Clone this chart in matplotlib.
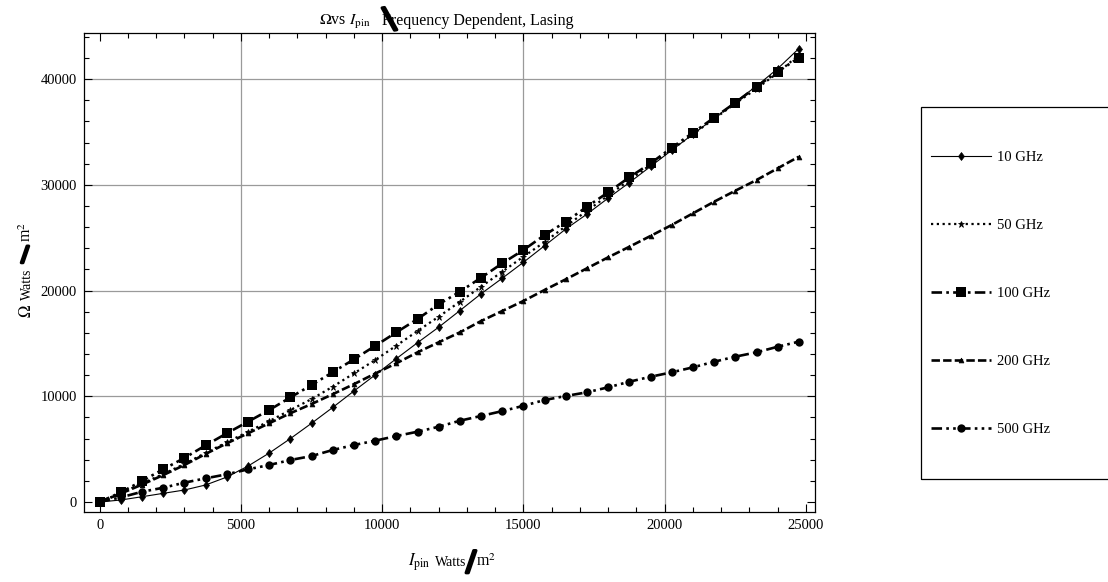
import matplotlib
matplotlib.use("Agg")
import matplotlib.pyplot as plt
import matplotlib.patheffects as pe
from matplotlib.patches import Rectangle
from matplotlib.ticker import MultipleLocator

plt.rcParams['font.family'] = ['Liberation Serif', 'DejaVu Serif']
plt.rcParams['mathtext.fontset'] = 'stix'

# Pin intensity samples (Watts/m^2)
i_pin = [i * 750 for i in range(34)]

omega_10ghz = [0, 190, 500, 820, 1135, 1610, 2360, 3400, 4630, 6000,
               7450, 8950, 10500, 12020, 13560, 15070, 16540, 18110, 19700, 21170,
               22680, 24250, 25830, 27240, 28750, 30220, 31750, 33280, 34800, 36300,
               37850, 39350, 41000, 42900]
omega_50ghz = [0, 850, 1750, 2650, 3600, 4650, 5650, 6650, 7650, 8700,
               9740, 10910, 12170, 13430, 14790, 16180, 17530, 18950, 20370, 21790,
               23210, 24600, 26100, 27550, 29000, 30450, 31900, 33350, 34800, 36250,
               37700, 39100, 40600, 42300]
omega_100ghz = [0, 920, 1990, 3100, 4170, 5360, 6500, 7600, 8700, 9900,
                11070, 12280, 13500, 14770, 16050, 17310, 18700, 19900, 21220, 22580,
                23840, 25260, 26520, 27940, 29300, 30720, 32040, 33520, 34940, 36360,
                37780, 39290, 40710, 42030]
omega_200ghz = [0, 800, 1650, 2550, 3500, 4550, 5550, 6500, 7450, 8400,
                9270, 10200, 11150, 12150, 13120, 14160, 15110, 16050, 17120, 18070,
                19020, 20060, 21070, 22110, 23150, 24150, 25170, 26210, 27310, 28410,
                29450, 30460, 31570, 32670]
omega_500ghz = [0, 440, 970, 1350, 1830, 2240, 2620, 3090, 3500, 3970,
                4350, 4920, 5390, 5800, 6240, 6650, 7120, 7690, 8140, 8600,
                9100, 9650, 10030, 10380, 10850, 11380, 11850, 12270, 12740, 13270,
                13750, 14160, 14690, 15170]

labels = ["10 GHz", "50 GHz", "100 GHz", "200 GHz", "500 GHz"]

W, H = 1108, 582
fig = plt.figure(figsize=(W / 100, H / 100), dpi=100)


def fx(px):
    return px / W


def fy(py):
    return 1 - py / H


ax = fig.add_axes([fx(84), fy(512), fx(815) - fx(84), fy(33) - fy(512)])

styles = [
    dict(ls='-', lw=0.8, marker='d', ms=4.5, mew=0.5),
    dict(ls=(0, (1, 1.6)), lw=1.6, marker='*', ms=5, mew=0.5),
    dict(ls=(0, (4, 1.6, 1, 1.6)), lw=1.9, marker='s', ms=6.5, mew=0),
    dict(ls=(0, (3.2, 1.2)), lw=1.9, marker='^', ms=3.5, mew=0.5),
    dict(ls=(0, (4, 1.6, 1, 1.6, 1, 1.6)), lw=1.9, marker='o', ms=6, mew=0),
]
series = [omega_10ghz, omega_50ghz, omega_100ghz, omega_200ghz, omega_500ghz]

handles = []
for ys, lab, st in zip(series, labels, styles):
    h, = ax.plot(i_pin, ys, color='black', label=lab, **st)
    handles.append(h)

ax.set_xlim(-556, 25320)
ax.set_ylim(-946, 44370)
ax.xaxis.set_major_locator(MultipleLocator(5000))
ax.xaxis.set_minor_locator(MultipleLocator(1000))
ax.yaxis.set_major_locator(MultipleLocator(10000))
ax.yaxis.set_minor_locator(MultipleLocator(2000))
ax.tick_params(which='both', direction='in', top=True, right=True,
               labelsize=10.5, color='black')
ax.tick_params(which='major', length=6, width=0.8, pad=5)
ax.tick_params(which='minor', length=3.5, width=0.8)
for xg in [5000, 10000, 15000, 20000]:
    ax.axvline(xg, color='#9a9a9a', lw=0.9, zorder=0)
for yg in [10000, 20000, 30000, 40000]:
    ax.axhline(yg, color='#9a9a9a', lw=0.9, zorder=0)
for sp in ax.spines.values():
    sp.set_linewidth(0.9)

heavy = [pe.withStroke(linewidth=2.2, foreground='black')]

# Title
fig.text(fx(371), fy(25), r"$\Omega$vs $I_{\mathrm{pin}}$", ha='right',
         va='baseline', fontsize=11.5)
fig.text(fx(382), fy(25), "Frequency Dependent, Lasing", ha='left',
         va='baseline', fontsize=11.5)
fig.text(fx(390), fy(22), "\\", ha='center', va='center', fontsize=26,
         fontweight='bold', rotation=10, path_effects=heavy)

# X axis label
fig.text(fx(430), fy(566), r"$I_{\mathrm{pin}}$", ha='right', va='baseline',
         fontsize=12)
fig.text(fx(435), fy(566), "Watts", ha='left', va='baseline', fontsize=10)
fig.text(fx(476), fy(566), r"m$^2$", ha='left', va='baseline', fontsize=11.5)
fig.text(fx(471), fy(564), "/", ha='center', va='center', fontsize=24,
         fontweight='bold', path_effects=heavy)

# Y axis label
fig.text(fx(27), fy(318), r"$\Omega$", ha='center', va='bottom', rotation=90,
         fontsize=12)
fig.text(fx(27), fy(300), "Watts", ha='center', va='bottom', rotation=90,
         fontsize=10)
fig.text(fx(27), fy(242), r"m$^2$", ha='center', va='bottom', rotation=90,
         fontsize=11.5)
fig.text(fx(25), fy(256), "/", ha='center', va='center', rotation=0,
         fontsize=18, fontweight='bold', path_effects=heavy)

# Legend with an open-ended frame
fig.patches.append(Rectangle((fx(921), fy(479)), fx(1200) - fx(921),
                             fy(107) - fy(479), transform=fig.transFigure,
                             fill=False, edgecolor='black', lw=0.9))
fig.legend(handles=handles, loc='center left',
           bbox_to_anchor=(fx(931), fy(293.5)), bbox_transform=fig.transFigure,
           frameon=False, numpoints=1, handlelength=4.1, handletextpad=0.45,
           labelspacing=3.75, borderpad=0, borderaxespad=0, fontsize=10.5)

fig.savefig("out.png", dpi=100)
